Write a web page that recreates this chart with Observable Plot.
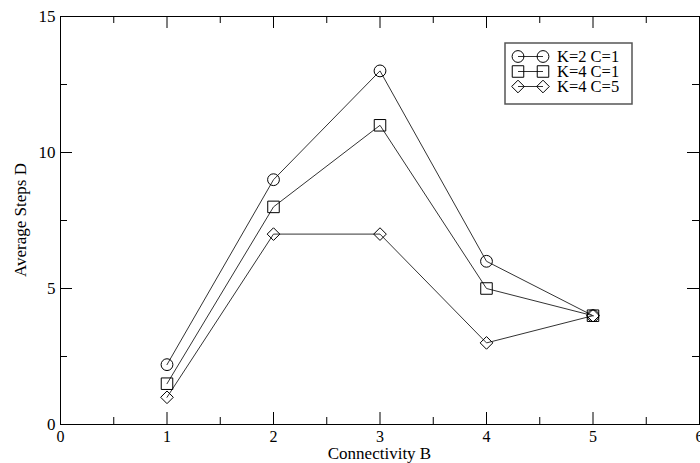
<!DOCTYPE html>
<html><head><meta charset="utf-8">
<script src="https://cdn.jsdelivr.net/npm/d3@7"></script>
<script src="https://cdn.jsdelivr.net/npm/@observablehq/plot@0.6"></script>
<style>html,body{margin:0;padding:0;background:#fff;overflow:hidden}</style>
</head><body><div id="chart"></div>
<script>
const connectivity = [1, 2, 3, 4, 5];
const seriesNames = ["K=2 C=1", "K=4 C=1", "K=4 C=5"];
const seriesSymbols = ["circle", "square", "diamond2"];
const k2c1 = [2.2, 9, 13, 6, 4];
const k4c1 = [1.5, 8, 11, 5, 4];
const k4c5 = [1, 7, 7, 3, 4];
const xTicks = [0, 1, 2, 3, 4, 5, 6];
const xMinorTicks = [0.5, 1.5, 2.5, 3.5, 4.5, 5.5];
const yTicks = [0, 5, 10, 15];
const yMinorTicks = [2.5, 7.5, 12.5];
const xLabel = "Connectivity B";
const yLabel = "Average Steps D";

const seriesValues = [k2c1, k4c1, k4c5];
const rows = [];
seriesNames.forEach((s, i) => connectivity.forEach((x, j) => rows.push({series: s, x, y: seriesValues[i][j]})));

const W = 700, H = 463, mL = 60, mR = 1, mT = 16, mB = 39;
const iW = W - mL - mR, iH = H - mT - mB;
const major = 12, minor = 7;
const font = "'Liberation Serif', 'Times New Roman', serif";
const symRadius = {"circle": 5.9, "square": 6.5, "diamond2": 5.7};

const marks = [
  Plot.ruleX(xTicks, {x: d => d, insetTop: iH - major, stroke: "#000"}),
  Plot.ruleX(xTicks, {x: d => d, insetBottom: iH - major, stroke: "#000"}),
  Plot.ruleX(xMinorTicks, {x: d => d, insetTop: iH - minor, stroke: "#000"}),
  Plot.ruleX(xMinorTicks, {x: d => d, insetBottom: iH - minor, stroke: "#000"}),
  Plot.ruleY(yTicks, {y: d => d, insetRight: iW - major, stroke: "#000"}),
  Plot.ruleY(yTicks, {y: d => d, insetLeft: iW - major, stroke: "#000"}),
  Plot.ruleY(yMinorTicks, {y: d => d, insetRight: iW - minor, stroke: "#000"}),
  Plot.ruleY(yMinorTicks, {y: d => d, insetLeft: iW - minor, stroke: "#000"}),
  Plot.axisX({ticks: xTicks, tickSize: 0, tickPadding: 6, label: null, fontSize: 16, tickFormat: d => String(d)}),
  Plot.axisY({ticks: yTicks, tickSize: 0, tickPadding: 5, label: null, fontSize: 17, tickFormat: d => String(d)}),
  Plot.frame({stroke: "#000", strokeWidth: 1}),
  Plot.line(rows, {x: "x", y: "y", z: "series", stroke: "#333", strokeWidth: 1})
];
seriesNames.forEach((s, i) => {
  marks.push(Plot.dot(rows.filter(d => d.series === s), {
    x: "x", y: "y", symbol: () => seriesSymbols[i], r: symRadius[seriesSymbols[i]],
    stroke: "#000", fill: "none", strokeWidth: 1
  }));
});

const chart = Plot.plot({
  width: W, height: H,
  marginLeft: mL, marginRight: mR, marginTop: mT, marginBottom: mB,
  x: {domain: [0, 6]},
  y: {domain: [0, 15]},
  symbol: {type: "identity"},
  style: {fontFamily: font, fontSize: "17px", color: "#000", background: "#fff", overflow: "visible"},
  marks
});
document.getElementById("chart").append(chart);

const svg = d3.select(chart);
// axis titles
svg.append("text").attr("x", mL + iW / 2).attr("y", 459).attr("text-anchor", "middle")
  .attr("font-family", font).attr("font-size", 17).attr("fill", "#000").text(xLabel);
svg.append("text").attr("transform", `translate(26,${mT + iH / 2}) rotate(-90)`).attr("text-anchor", "middle")
  .attr("font-family", font).attr("font-size", 17).attr("fill", "#000").text(yLabel);

// legend
const lg = svg.append("g");
lg.append("rect").attr("x", 505).attr("y", 43).attr("width", 127).attr("height", 61)
  .attr("fill", "#fff").attr("stroke", "#555").attr("stroke-width", 1.5);
const d3sym = {"circle": d3.symbolCircle, "square": d3.symbolSquare, "diamond2": d3.symbolDiamond2};
seriesNames.forEach((s, i) => {
  const y = 56.5 + i * 15;
  const sym = seriesSymbols[i];
  const r = symRadius[sym];
  lg.append("line").attr("x1", 518).attr("x2", 543).attr("y1", y).attr("y2", y).attr("stroke", "#333");
  [518, 543].forEach(x => {
    lg.append("path").attr("d", d3.symbol(d3sym[sym], Math.PI * r * r)())
      .attr("transform", `translate(${x},${y})`).attr("fill", "none").attr("stroke", "#000");
  });
  lg.append("text").attr("x", 557).attr("y", y).attr("dy", "0.35em").attr("text-anchor", "start")
    .attr("font-family", font).attr("font-size", 16.5).attr("fill", "#000").text(s);
});
</script>
</body></html>
